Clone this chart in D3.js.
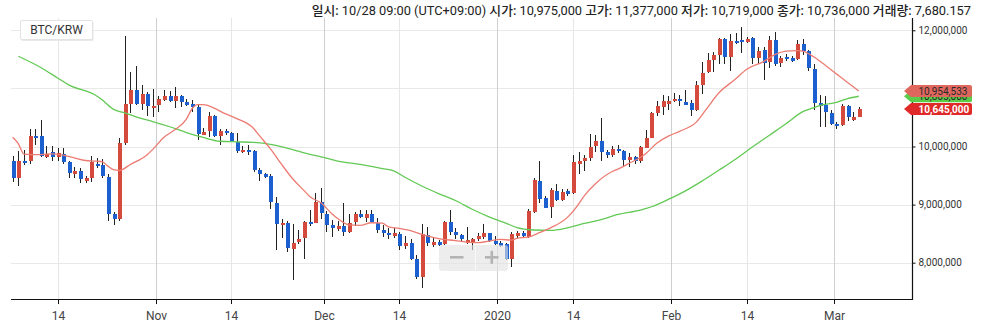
<!DOCTYPE html>
<html>
<head>
<meta charset="utf-8">
<script src="https://cdn.jsdelivr.net/npm/d3@7"></script>
<style>
  html, body { margin: 0; padding: 0; background: #fff; }
  svg { display: block; font-family: Roboto, "Noto Sans CJK KR", sans-serif; }
</style>
</head>
<body>
<svg id="chart" width="987" height="327"></svg>
<script>
// Daily BTC/KRW candles from 2019-10-06 to 2020-03-05, prices in thousand KRW.
const firstDay = "2019-10-06";
const pair = "BTC/KRW";

const open = [
  9748, 9461, 9759, 9748, 10189, 10178, 9822, 9903, 9822, 9874,
  9731, 9530, 9576, 9404, 9450, 9702, 9673, 9473, 8842, 8745,
  10063, 10734, 10975, 10736, 10911, 10665, 10711, 10808, 10865, 10779,
  10865, 10762, 10739, 10676, 10206, 10264, 10521, 10189, 10275, 10229,
  10080, 9908, 9948, 9931, 9587, 9519, 9490, 9032, 8648, 8688,
  8241, 8361, 8430, 8705, 8688, 9043, 8842, 8648, 8573, 8630,
  8527, 8705, 8831, 8774, 8831, 8688, 8556, 8504, 8453, 8499,
  8287, 8332, 8069, 7754, 8476, 8304, 8361, 8315, 8705, 8533,
  8476, 8344, 8361, 8401, 8441, 8504, 8372, 8332, 8315, 8057,
  8458, 8504, 8447, 8877, 9404, 9117, 8957, 9232, 9072, 9232,
  9192, 9702, 9748, 9794, 10006, 10103, 9903, 9862, 9960, 9931,
  9765, 9822, 9748, 9977, 10149, 10579, 10676, 10739, 10779, 10820,
  10768, 10751, 10636, 11066, 11284, 11496, 11582, 11857, 11536, 11822,
  11828, 11799, 11868, 11524, 11668, 11456, 11840, 11438, 11542, 11524,
  11513, 11765, 11650, 11341, 10751, 10711, 10579, 10395, 10378, 10693,
  10464, 10516
];
const high = [
  9834, 9920, 9937, 10309, 10309, 10464, 10006, 10011, 9966, 9966,
  9748, 9645, 9633, 9490, 9828, 9805, 9777, 9530, 8877, 10138,
  11908, 11284, 11377, 11066, 10934, 10997, 10877, 10980, 10963, 11020,
  10894, 10825, 10808, 10734, 10321, 10596, 10539, 10309, 10309, 10252,
  10235, 10006, 10023, 9943, 9622, 9542, 9530, 9129, 8745, 8716,
  8659, 8556, 8716, 8905, 9203, 9278, 8888, 8728, 8716, 9020,
  8831, 8871, 8911, 8911, 8900, 8762, 8642, 8590, 8590, 8533,
  8458, 8401, 8132, 8659, 8613, 8430, 8384, 8716, 8900, 8602,
  8499, 8613, 8430, 8516, 8659, 8510, 8453, 8372, 8344, 8533,
  8544, 8544, 8917, 9461, 9748, 9146, 9278, 9358, 9261, 9261,
  9862, 9908, 9862, 10218, 10195, 10493, 9948, 10006, 10023, 9948,
  9891, 9834, 10006, 10292, 10596, 10791, 10883, 10865, 10923, 10894,
  10980, 10808, 11135, 11456, 11610, 11622, 11868, 11868, 11943, 11954,
  12057, 11880, 11885, 11708, 11708, 11897, 11971, 11553, 11593, 11553,
  11840, 11857, 11668, 11421, 10883, 10865, 10636, 10424, 10734, 10722,
  10596, 10676
];
const low = [
  9393, 9318, 9679, 9691, 10034, 9817, 9805, 9748, 9748, 9702,
  9450, 9461, 9375, 9375, 9381, 9622, 9461, 8716, 8648, 8716,
  10034, 10579, 10719, 10636, 10521, 10504, 10596, 10779, 10768, 10665,
  10676, 10693, 10596, 10120, 10195, 10160, 10160, 10034, 10206, 10080,
  9891, 9891, 9851, 9564, 9404, 9450, 8917, 8212, 8430, 8183,
  7696, 8315, 8069, 8630, 8676, 8745, 8533, 8441, 8544, 8458,
  8516, 8630, 8774, 8705, 8688, 8516, 8447, 8401, 8430, 8218,
  8229, 8040, 7713, 7570, 8287, 8269, 8287, 8304, 8476, 8401,
  8361, 8315, 8212, 8372, 8401, 8361, 8304, 8269, 8046, 7925,
  8430, 8441, 8430, 8860, 9032, 8934, 8774, 9060, 9060, 9146,
  9175, 9530, 9576, 9748, 9908, 9748, 9805, 9822, 9891, 9645,
  9645, 9702, 9719, 9966, 10138, 10521, 10539, 10636, 10768, 10693,
  10711, 10521, 10607, 10911, 11266, 11284, 11421, 11421, 11295, 11765,
  11610, 11782, 11421, 11421, 11152, 11352, 11381, 11364, 11467, 11456,
  11496, 11570, 11307, 10636, 10332, 10332, 10378, 10304, 10361, 10436,
  10447, 10504
];
const close = [
  9461, 9759, 9713, 10189, 10149, 9834, 9874, 9822, 9885, 9731,
  9547, 9576, 9433, 9450, 9731, 9662, 9490, 8842, 8745, 10063,
  10734, 10980, 10736, 10911, 10693, 10705, 10825, 10865, 10779, 10865,
  10768, 10711, 10676, 10218, 10258, 10521, 10178, 10275, 10235, 10092,
  9920, 9948, 9903, 9593, 9519, 9473, 9049, 8670, 8688, 8246,
  8344, 8413, 8705, 8670, 9049, 8860, 8648, 8590, 8630, 8533,
  8676, 8831, 8785, 8831, 8705, 8556, 8504, 8470, 8504, 8287,
  8332, 8057, 7754, 8487, 8332, 8355, 8304, 8705, 8533, 8476,
  8401, 8384, 8401, 8458, 8504, 8372, 8327, 8287, 8057, 8487,
  8516, 8458, 8888, 9415, 9089, 8946, 9249, 9072, 9221, 9186,
  9731, 9748, 9794, 9994, 10103, 9908, 9862, 9960, 9920, 9765,
  9822, 9748, 9989, 10138, 10579, 10693, 10779, 10791, 10820, 10779,
  10722, 10636, 11066, 11266, 11496, 11582, 11857, 11536, 11811, 11782,
  11817, 11857, 11524, 11650, 11438, 11840, 11421, 11524, 11507, 11479,
  11765, 11650, 11352, 10751, 10693, 10596, 10390, 10361, 10693, 10504,
  10516, 10645
];

// Shown in the header for the selected session.
const selectedDay = "2019-10-28";
const selectedVolume = 7680.157;

// Short moving average (KRW), sampled by day.
const maShortDates = [
  "2019-10-06", "2019-10-07", "2019-10-08", "2019-10-11", "2019-10-13", "2019-10-15", "2019-10-17",
  "2019-10-19", "2019-10-21", "2019-10-22", "2019-10-23", "2019-10-24", "2019-10-25", "2019-10-27",
  "2019-10-30", "2019-10-31", "2019-11-02", "2019-11-04", "2019-11-06", "2019-11-07", "2019-11-08",
  "2019-11-09", "2019-11-10", "2019-11-13", "2019-11-15", "2019-11-18", "2019-11-19", "2019-11-21",
  "2019-11-23", "2019-11-25", "2019-11-27", "2019-11-28", "2019-11-30", "2019-12-02", "2019-12-03",
  "2019-12-05", "2019-12-07", "2019-12-09", "2019-12-11", "2019-12-12", "2019-12-14", "2019-12-16",
  "2019-12-18", "2019-12-19", "2019-12-21", "2019-12-24", "2019-12-26", "2019-12-28", "2019-12-30",
  "2020-01-01", "2020-01-03", "2020-01-04", "2020-01-06", "2020-01-08", "2020-01-10", "2020-01-13",
  "2020-01-15", "2020-01-16", "2020-01-18", "2020-01-21", "2020-01-22", "2020-01-24", "2020-01-26",
  "2020-01-27", "2020-01-29", "2020-01-31", "2020-02-02", "2020-02-05", "2020-02-07", "2020-02-09",
  "2020-02-12", "2020-02-14", "2020-02-17", "2020-02-19", "2020-02-21", "2020-02-23", "2020-02-24",
  "2020-02-26", "2020-02-28", "2020-03-01", "2020-03-03", "2020-03-05"
];
const maShortValues = [
  10160000, 10050000, 9870000, 9860000, 9874000, 9851000, 9805000,
  9759000, 9748000, 9736000, 9662000, 9600000, 9587000, 9691000,
  9860000, 9950000, 10160000, 10292000, 10470000, 10650000, 10720000,
  10722000, 10700000, 10560000, 10480000, 10310000, 10190000, 9960000,
  9691000, 9440000, 9240000, 9140000, 9030000, 8840000, 8760000,
  8650000, 8642000, 8688000, 8680000, 8620000, 8590000, 8550000,
  8490000, 8460000, 8414000, 8380000, 8355000, 8344000, 8372000,
  8400000, 8390000, 8420000, 8441000, 8516000, 8600000, 8780000,
  9010000, 9150000, 9360000, 9570000, 9610000, 9710000, 9810000,
  9880000, 10060000, 10178000, 10260000, 10420000, 10670000, 10920000,
  11160000, 11330000, 11460000, 11580000, 11640000, 11650000, 11640000,
  11540000, 11400000, 11250000, 11100000, 10954533
];

// Long moving average (KRW), sampled by day.
const maLongDates = [
  "2019-10-07", "2019-10-11", "2019-10-14", "2019-10-16", "2019-10-21", "2019-10-22", "2019-10-24",
  "2019-10-26", "2019-10-28", "2019-10-31", "2019-11-03", "2019-11-06", "2019-11-09", "2019-11-12",
  "2019-11-15", "2019-11-18", "2019-11-21", "2019-11-24", "2019-11-27", "2019-12-01", "2019-12-03",
  "2019-12-07", "2019-12-11", "2019-12-13", "2019-12-15", "2019-12-18", "2019-12-21", "2019-12-24",
  "2019-12-27", "2019-12-30", "2020-01-02", "2020-01-04", "2020-01-07", "2020-01-10", "2020-01-13",
  "2020-01-16", "2020-01-19", "2020-01-22", "2020-01-26", "2020-01-28", "2020-01-31", "2020-02-03",
  "2020-02-06", "2020-02-09", "2020-02-12", "2020-02-15", "2020-02-18", "2020-02-21", "2020-02-24",
  "2020-02-26", "2020-02-27", "2020-03-01", "2020-03-03", "2020-03-05"
];
const maLongValues = [
  11553000, 11360000, 11180000, 11060000, 10870000, 10800000, 10640000,
  10579000, 10510000, 10430000, 10340000, 10240000, 10155000, 10090000,
  10080000, 10070000, 10036000, 9970000, 9890000, 9800000, 9750000,
  9691000, 9620000, 9580000, 9470000, 9320000, 9190000, 9070000,
  8920000, 8790000, 8680000, 8605000, 8563000, 8556000, 8600000,
  8676000, 8740000, 8830000, 8905000, 8963000, 9089000, 9232000,
  9404000, 9590000, 9780000, 9990000, 10190000, 10390000, 10600000,
  10670000, 10705000, 10760000, 10825000, 10865000
];

// Axis ticks
const priceTicks = [8000000, 9000000, 10000000, 11000000, 12000000];
const monthTickLabels = ["Nov", "Dec", "2020", "Feb", "Mar"];
const midMonthLabel = "14";

// Colours
const upColor = "#d44a3d";
const downColor = "#1c5fcf";
const wickColor = "#222";
const maShortColor = "#ec7b72";
const maLongColor = "#62c954";

// ---------------------------------------------------------------
const svg = d3.select("#chart");
const plot = { left: 11, right: 912, top: 18, bottom: 299 };

const parseDay = d3.utcParse("%Y-%m-%d");
const UNIT = 1000;
const start = parseDay(firstDay);
const candles = open.map((o, i) => ({
  day: d3.utcDay.offset(start, i),
  o: o * UNIT, h: high[i] * UNIT, l: low[i] * UNIT, c: close[i] * UNIT
}));
const lastDay = candles[candles.length - 1].day;
// Each candle sits at the middle of its day.
const mid = d => d3.utcHour.offset(d, 12);

const x = d3.scaleUtc()
  .domain([mid(candles[0].day), mid(lastDay)])
  .range([12.7, 858.8]);
const y = d3.scaleLinear().domain([8000000, 12000000]).range([262.7, 30.3]);

// Tick dates: first of each month and the 14th of each month
const monthStarts = d3.utcMonth.range(d3.utcMonth.ceil(start), lastDay);
const midMonths = d3.utcMonth.range(d3.utcMonth.floor(start), lastDay)
  .map(m => mid(d3.utcDay.offset(m, 13)))
  .filter(d => x(d) >= plot.left && d <= lastDay);

// Grid
const grid = svg.append("g");
grid.selectAll("line.h").data(priceTicks).join("line")
  .attr("x1", plot.left).attr("x2", plot.right)
  .attr("y1", d => Math.round(y(d)) + 0.5).attr("y2", d => Math.round(y(d)) + 0.5)
  .attr("stroke", "#e9e9e9").attr("stroke-width", 1);
grid.selectAll("line.mid").data(midMonths).join("line")
  .attr("x1", d => Math.round(x(d)) + 0.5).attr("x2", d => Math.round(x(d)) + 0.5)
  .attr("y1", plot.top).attr("y2", plot.bottom)
  .attr("stroke", "#e6e6e6").attr("stroke-width", 1);
grid.selectAll("line.month").data(monthStarts).join("line")
  .attr("x1", d => Math.round(x(d)) + 0.5).attr("x2", d => Math.round(x(d)) + 0.5)
  .attr("y1", plot.top).attr("y2", plot.bottom)
  .attr("stroke", "#cfcfcf").attr("stroke-width", 1);

// Candles
const cx = d => Math.round(x(mid(d.day)));
const gCandles = svg.append("g").attr("shape-rendering", "crispEdges");
gCandles.selectAll("line").data(candles).join("line")
  .attr("x1", d => cx(d) + 0.5).attr("x2", d => cx(d) + 0.5)
  .attr("y1", d => y(d.h)).attr("y2", d => y(d.l))
  .attr("stroke", wickColor).attr("stroke-width", 1);
gCandles.selectAll("rect").data(candles).join("rect")
  .attr("x", d => cx(d) - 1.5)
  .attr("width", 4)
  .attr("y", d => y(Math.max(d.o, d.c)))
  .attr("height", d => Math.max(1.5, Math.abs(y(d.o) - y(d.c))))
  .attr("fill", d => d.c >= d.o ? upColor : downColor);

// Moving averages
svg.append("clipPath").attr("id", "plotClip").append("rect")
  .attr("x", plot.left).attr("y", plot.top)
  .attr("width", plot.right - plot.left).attr("height", plot.bottom - plot.top);
const maLine = d3.line()
  .x(d => x(mid(d.day))).y(d => y(d.v))
  .curve(d3.curveMonotoneX);
const maShort = maShortDates.map((s, i) => ({ day: parseDay(s), v: maShortValues[i] }));
const maLong = maLongDates.map((s, i) => ({ day: parseDay(s), v: maLongValues[i] }));
const gMa = svg.append("g").attr("clip-path", "url(#plotClip)");
gMa.append("path").datum(maLong).attr("d", maLine)
  .attr("fill", "none").attr("stroke", maLongColor).attr("stroke-width", 1.3);
gMa.append("path").datum(maShort).attr("d", maLine)
  .attr("fill", "none").attr("stroke", maShortColor).attr("stroke-width", 1.3);

// Bottom axis
const tickDates = monthStarts.concat(midMonths).sort((a, b) => a - b);
const monthLabel = new Map(monthStarts.map((d, i) => [+d, monthTickLabels[i]]));
const xAxis = d3.axisBottom(x)
  .tickValues(tickDates)
  .tickFormat(d => monthLabel.has(+d) ? monthLabel.get(+d) : midMonthLabel)
  .tickSize(5).tickPadding(7);
const gx = svg.append("g").attr("transform", `translate(0,${plot.bottom})`).call(xAxis);
gx.select(".domain").remove();
gx.selectAll(".tick").attr("transform", d => `translate(${Math.round(x(d)) + 0.5},0)`);
gx.selectAll(".tick line").attr("stroke", "#111");
gx.selectAll(".tick text").attr("fill", "#444").attr("font-size", 12)
  .attr("font-family", "Roboto, sans-serif");
svg.append("line")
  .attr("x1", plot.left).attr("x2", plot.right + 0.5)
  .attr("y1", plot.bottom + 0.5).attr("y2", plot.bottom + 0.5)
  .attr("stroke", "#111").attr("stroke-width", 1.2);

// Value tags shown on the price axis
const fmt = d3.format(",");
const tags = [
  { v: maLongValues[maLongValues.length - 1], fill: "#5ccb4a", text: "#222", weight: 400 },
  { v: maShortValues[maShortValues.length - 1], fill: "#e0675d", text: "#2a2a2a", weight: 400 },
  { v: candles[candles.length - 1].c, fill: "#e02a2a", text: "#fff", weight: 700 }
];

// Right axis; a tick label that would sit under a value tag is left out
const yAxis = d3.axisRight(y)
  .tickValues(priceTicks)
  .tickFormat(d3.format(","))
  .tickSize(3).tickPadding(3);
const gy = svg.append("g").attr("transform", `translate(${plot.right + 0.5},0)`).call(yAxis);
gy.select(".domain").remove();
gy.selectAll(".tick line").attr("stroke", "#111");
gy.selectAll(".tick text").attr("fill", "#333").attr("font-size", 10)
  .attr("font-family", "Roboto, sans-serif")
  .filter(d => tags.some(t => Math.abs(y(t.v) - y(d)) < 9)).remove();
svg.append("line")
  .attr("x1", plot.right + 0.5).attr("x2", plot.right + 0.5)
  .attr("y1", plot.top).attr("y2", plot.bottom + 1)
  .attr("stroke", "#111").attr("stroke-width", 1.2);

tags.forEach(t => {
  const cy = y(t.v);
  const g = svg.append("g");
  g.append("path")
    .attr("d", `M904,${cy} L911,${cy - 6} L970,${cy - 6} Q972,${cy - 6} 972,${cy - 4}` +
      ` L972,${cy + 4} Q972,${cy + 6} 970,${cy + 6} L911,${cy + 6} Z`)
    .attr("fill", t.fill);
  g.append("text")
    .attr("x", 918.5).attr("y", cy + 3.6)
    .attr("font-size", 10).attr("font-weight", t.weight)
    .attr("font-family", "Roboto, sans-serif")
    .attr("fill", t.text)
    .text(fmt(Math.round(t.v)));
});

// Zoom buttons
const zb = svg.append("g");
zb.append("rect").attr("x", 439).attr("y", 245).attr("width", 69).attr("height", 26).attr("rx", 3)
  .attr("fill", "rgba(226,226,226,0.62)");
zb.append("line").attr("x1", 475.5).attr("x2", 475.5).attr("y1", 246).attr("y2", 270)
  .attr("stroke", "rgba(250,250,250,0.8)");
zb.append("rect").attr("x", 450).attr("y", 256).attr("width", 13.5).attr("height", 2.6).attr("fill", "#b4b4b4");
zb.append("rect").attr("x", 485).attr("y", 256).attr("width", 13.5).attr("height", 2.6).attr("fill", "#b4b4b4");
zb.append("rect").attr("x", 490.5).attr("y", 250.8).attr("width", 2.6).attr("height", 13).attr("fill", "#b4b4b4");

// Pair label
const pl = svg.append("g");
pl.append("rect").attr("x", 21.5).attr("y", 21.5).attr("width", 72).attr("height", 19.5)
  .attr("fill", "#e8e8e8").attr("rx", 1.5);
pl.append("rect").attr("x", 20.5).attr("y", 20.5).attr("width", 72).attr("height", 19)
  .attr("fill", "#fff").attr("stroke", "#e3e3e3").attr("rx", 1.5);
pl.append("text").attr("x", 56.5).attr("y", 34.3).attr("text-anchor", "middle")
  .attr("font-size", 12).attr("fill", "#333").text(pair);

// Header with the selected session
const sel = candles.find(d => +d.day === +parseDay(selectedDay));
const hdr = [
  ["일시", d3.utcFormat("%m/%d")(sel.day) + " 09:00 (UTC+09:00)"],
  ["시가", fmt(sel.o)], ["고가", fmt(sel.h)], ["저가", fmt(sel.l)], ["종가", fmt(sel.c)],
  ["거래량", d3.format(",.3f")(selectedVolume)]
];
const ht = svg.append("text").attr("x", 971).attr("y", 14.5).attr("text-anchor", "end")
  .attr("font-size", 12.8).attr("fill", "#222");
hdr.forEach(([k, v], i) => {
  ht.append("tspan").attr("font-weight", 500).text((i ? " " : "") + k + ": ");
  ht.append("tspan").text(v);
});
</script>
</body>
</html>
